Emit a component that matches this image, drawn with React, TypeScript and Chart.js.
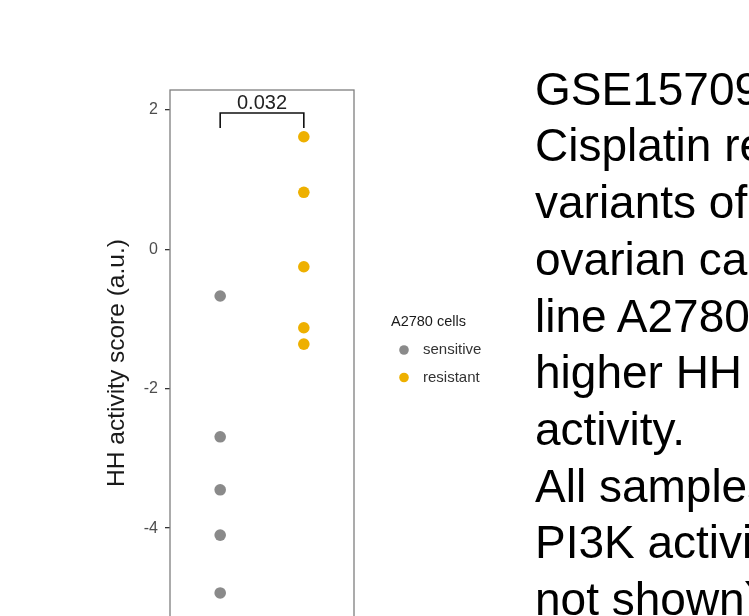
import React, { useEffect, useRef } from "react";
import { Chart, registerables } from "chart.js";

Chart.register(...registerables);

// ---- data ----
const GROUPS = ["sensitive", "resistant"];
const GROUP_X = [1, 2];
const SENSITIVE = [-0.67, -2.69, -3.45, -4.1, -4.93];
const RESISTANT = [1.615, 0.818, -0.25, -1.125, -1.36];
const COLORS = ["#8a8a8a", "#eeb000"];
const Y_TICKS = [2, 0, -2, -4];
const Y_MIN = -5.548;
const Y_MAX = 2.286;
const X_MIN = 0.4;
const X_MAX = 2.6;
const P_LABEL = "0.032";
const BRACKET_TOP = 1.955;
const BRACKET_TIP = 1.74;
const LEGEND_TITLE = "A2780 cells";
const Y_TITLE = "HH activity score (a.u.)";
const SIDE_TEXT = [
  "GSE15709: ",
  "Cisplatin resistant",
  "variants of the",
  "ovarian cancer cell",
  "line A2780 show",
  "higher HH pathway",
  "activity.",
  "All samples have",
  "PI3K activity (data",
  "not shown).",
];

const FONT = "'Liberation Sans', Arial, Helvetica, sans-serif";

const overlayPlugin = {
  id: "overlay",
  beforeDatasetsDraw(chart: any) {
    const { ctx, chartArea } = chart;
    ctx.save();
    ctx.strokeStyle = "#7f7f7f";
    ctx.lineWidth = 1.3;
    ctx.strokeRect(
      chartArea.left,
      chartArea.top,
      chartArea.right - chartArea.left,
      chartArea.bottom - chartArea.top + 20
    );
    ctx.restore();
  },
  afterDatasetsDraw(chart: any) {
    const { ctx, scales } = chart;
    const xs = scales.x;
    const ys = scales.y;
    // significance bracket
    const x1 = xs.getPixelForValue(GROUP_X[0]);
    const x2 = xs.getPixelForValue(GROUP_X[1]);
    const yTop = ys.getPixelForValue(BRACKET_TOP);
    const yTip = ys.getPixelForValue(BRACKET_TIP);
    ctx.save();
    ctx.strokeStyle = "#111";
    ctx.lineWidth = 1.6;
    ctx.beginPath();
    ctx.moveTo(x1, yTip);
    ctx.lineTo(x1, yTop);
    ctx.lineTo(x2, yTop);
    ctx.lineTo(x2, yTip);
    ctx.stroke();
    ctx.fillStyle = "#222";
    ctx.font = `20px ${FONT}`;
    ctx.textAlign = "center";
    ctx.textBaseline = "alphabetic";
    ctx.fillText(P_LABEL, (x1 + x2) / 2, yTop - 4);

    // legend
    const lx = chart.chartArea.right + 37;
    ctx.textAlign = "left";
    ctx.textBaseline = "middle";
    ctx.fillStyle = "#1a1a1a";
    ctx.font = `14.5px ${FONT}`;
    ctx.fillText(LEGEND_TITLE, lx, 322);
    GROUPS.forEach((g, i) => {
      const cy = 350 + i * 27.5;
      ctx.beginPath();
      ctx.fillStyle = COLORS[i];
      ctx.arc(lx + 13, cy, 4.8, 0, Math.PI * 2);
      ctx.fill();
      ctx.fillStyle = "#333";
      ctx.font = `15px ${FONT}`;
      ctx.fillText(g, lx + 32, cy);
    });
    ctx.restore();
  },
};

export default function App() {
  const ref = useRef<HTMLCanvasElement | null>(null);

  useEffect(() => {
    if (!ref.current) return;
    const chart = new Chart(ref.current, {
      type: "scatter",
      data: {
        datasets: [
          {
            label: GROUPS[0],
            data: SENSITIVE.map((y) => ({ x: GROUP_X[0], y })),
            backgroundColor: COLORS[0],
            borderColor: COLORS[0],
            pointRadius: 5.8,
            borderWidth: 0,
          },
          {
            label: GROUPS[1],
            data: RESISTANT.map((y) => ({ x: GROUP_X[1], y })),
            backgroundColor: COLORS[1],
            borderColor: COLORS[1],
            pointRadius: 5.8,
            borderWidth: 0,
          },
        ],
      },
      options: {
        responsive: false,
        animation: false,
        layout: {
          autoPadding: false,
          padding: { left: 0, right: 395, top: 90, bottom: 0 },
        },
        plugins: {
          legend: { display: false },
          tooltip: { enabled: false },
          title: { display: false },
        },
        scales: {
          x: {
            type: "linear",
            min: X_MIN,
            max: X_MAX,
            display: false,
          },
          y: {
            type: "linear",
            min: Y_MIN,
            max: Y_MAX,
            afterFit: (scale: any) => {
              scale.width = 170;
              scale.paddingTop = 0;
              scale.paddingBottom = 0;
            },
            afterBuildTicks: (scale: any) => {
              scale.ticks = Y_TICKS.map((v) => ({ value: v }));
            },
            border: { display: false },
            grid: {
              drawOnChartArea: false,
              drawTicks: true,
              tickLength: 5,
              color: "#333",
              lineWidth: 1.3,
            },
            ticks: {
              padding: 7,
              color: "#4d4d4d",
              font: { family: FONT, size: 16 },
              callback: (v: any) => String(v),
            },
            title: {
              display: true,
              text: Y_TITLE,
              color: "#1a1a1a",
              font: { family: FONT, size: 24.5 },
              padding: { top: 103, bottom: 0 },
            },
          },
        },
      },
      plugins: [overlayPlugin],
    });
    return () => chart.destroy();
  }, []);

  return (
    <div
      style={{
        position: "fixed",
        left: 0,
        top: 0,
        width: 749,
        height: 616,
        overflow: "hidden",
        background: "#fff",
      }}
    >
      <canvas
        ref={ref}
        width={749}
        height={636}
        style={{ position: "absolute", left: 0, top: 0, width: 749, height: 636 }}
      />
      <div
        style={{
          position: "absolute",
          left: 535,
          top: 60.7,
          fontFamily: FONT,
          fontSize: 46,
          lineHeight: "56.7px",
          color: "#000",
          whiteSpace: "pre",
        }}
      >
        {SIDE_TEXT.map((t, i) => (
          <div key={i}>{t}</div>
        ))}
      </div>
    </div>
  );
}
